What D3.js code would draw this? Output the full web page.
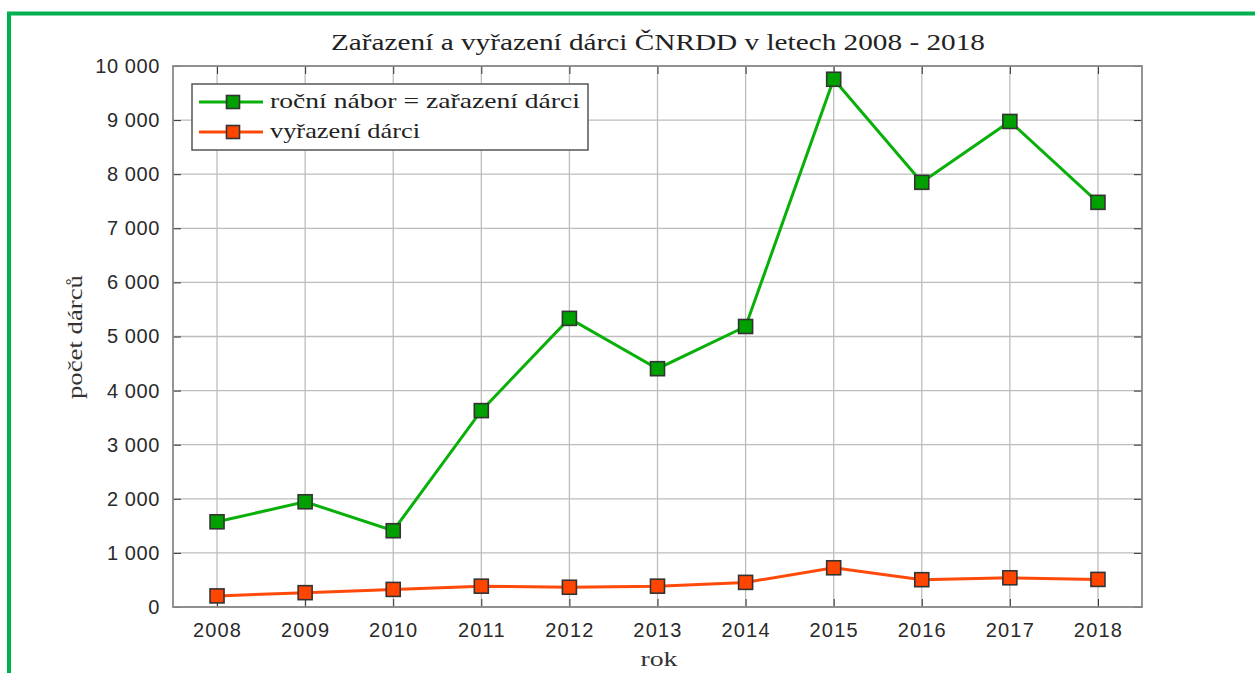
<!DOCTYPE html>
<html>
<head>
<meta charset="utf-8">
<script src="https://cdn.jsdelivr.net/npm/d3@7"></script>
<style>
  body { margin: 0; background: #fff; }
  svg { display: block; }
</style>
</head>
<body>
<div id="chart"></div>
<script>
// data
const years = [2008, 2009, 2010, 2011, 2012, 2013, 2014, 2015, 2016, 2017, 2018];
const recruited = [1575, 1945, 1410, 3630, 5335, 4405, 5185, 9755, 7850, 8975, 7480];
const removed = [205, 265, 325, 385, 365, 385, 455, 725, 505, 540, 510];
const yTicks = [0, 1000, 2000, 3000, 4000, 5000, 6000, 7000, 8000, 9000, 10000];
const seriesNames = ['roční nábor = zařazení dárci', 'vyřazení dárci'];
const lineColors = ['#0ab00a', '#ff4a0a'];
const markerColors = ['#00a000', '#ff4500'];

const W = 1255, H = 673;
const pLeft = 173, pRight = 1142, pTop = 66, pBottom = 607;

const svg = d3.select('#chart').append('svg').attr('width', W).attr('height', H);

// green frame round the picture
svg.append('rect')
  .attr('x', 9).attr('y', 13.5)
  .attr('width', 1260).attr('height', 700)
  .attr('fill', 'none').attr('stroke', '#00b050').attr('stroke-width', 4);

const fmt = d3.formatLocale({decimal: ',', thousands: ' ', grouping: [3], currency: ['', '']}).format(',d');

const x = d3.scaleLinear().domain([2007.5, 2018.5]).range([pLeft, pRight]);
const y = d3.scaleLinear().domain([0, 10000]).range([pBottom, pTop]);

// grid
const grid = svg.append('g');
grid.selectAll('.vg').data(years).enter().append('line')
  .attr('x1', d => x(d)).attr('x2', d => x(d))
  .attr('y1', pTop).attr('y2', pBottom)
  .attr('stroke', '#bdbdbd').attr('stroke-width', 1.3);
grid.selectAll('.hg').data(yTicks).enter().append('line')
  .attr('x1', pLeft).attr('x2', pRight)
  .attr('y1', d => y(d)).attr('y2', d => y(d))
  .attr('stroke', '#bdbdbd').attr('stroke-width', 1.3);

// axes, ticks inside on all four sides
const tickLen = 8;
const xAxis = d3.axisBottom(x).tickValues(years).tickFormat(d3.format('d')).tickSizeInner(-tickLen).tickSizeOuter(0).tickPadding(16);
const yAxis = d3.axisLeft(y).tickValues(yTicks).tickFormat(fmt).tickSizeInner(-tickLen).tickSizeOuter(0).tickPadding(13);

const gx = svg.append('g').attr('transform', `translate(0,${pBottom})`).call(xAxis);
svg.append('g').attr('transform', `translate(${pLeft},0)`).call(yAxis);
svg.append('g').attr('transform', `translate(0,${pTop})`)
  .call(d3.axisTop(x).tickValues(years).tickFormat('').tickSizeInner(-tickLen).tickSizeOuter(0));
svg.append('g').attr('transform', `translate(${pRight},0)`)
  .call(d3.axisRight(y).tickValues(yTicks).tickFormat('').tickSizeInner(-tickLen).tickSizeOuter(0));

svg.selectAll('.domain').remove();
svg.selectAll('.tick line').attr('stroke', '#333').attr('stroke-width', 1);
svg.selectAll('.tick text')
  .attr('font-family', '"Liberation Sans", Arial, sans-serif')
  .attr('font-size', 20).attr('letter-spacing', 0.6).attr('fill', '#2a2a2a');
gx.selectAll('.tick text').attr('letter-spacing', 1.2);

// plot box
svg.append('rect')
  .attr('x', pLeft).attr('y', pTop)
  .attr('width', pRight - pLeft).attr('height', pBottom - pTop)
  .attr('fill', 'none').attr('stroke', '#8a8a8a').attr('stroke-width', 1.8);

// lines and markers
const series = [recruited, removed];
const line = d3.line().x((d, i) => x(years[i])).y(d => y(d));
const ms = 14;
series.forEach((vals, k) => {
  svg.append('path').datum(vals)
    .attr('d', line)
    .attr('fill', 'none').attr('stroke', lineColors[k]).attr('stroke-width', 3);
  svg.selectAll('.m' + k).data(vals).enter().append('rect')
    .attr('x', (d, i) => x(years[i]) - ms / 2)
    .attr('y', d => y(d) - ms / 2)
    .attr('width', ms).attr('height', ms)
    .attr('fill', markerColors[k]).attr('stroke', '#333').attr('stroke-width', 1.6);
});

// serif text is stretched to the width of the TeX font in the picture
const serif = '"Liberation Serif", "Times New Roman", serif';

// legend
const legendWidths = [310, 150];
const lg = svg.append('g');
lg.append('rect')
  .attr('x', 192).attr('y', 84).attr('width', 396).attr('height', 66)
  .attr('fill', '#fff').attr('stroke', '#555').attr('stroke-width', 1.5);
seriesNames.forEach((name, k) => {
  const ly = 102 + k * 30;
  lg.append('line').attr('x1', 199).attr('x2', 263).attr('y1', ly).attr('y2', ly)
    .attr('stroke', lineColors[k]).attr('stroke-width', 3);
  lg.append('rect').attr('x', 233 - 6.5).attr('y', ly - 6.5).attr('width', 13).attr('height', 13)
    .attr('fill', markerColors[k]).attr('stroke', '#333').attr('stroke-width', 1.6);
  lg.append('text').attr('x', 270).attr('y', ly + 6)
    .attr('font-family', serif).attr('font-size', 22).attr('fill', '#222')
    .attr('textLength', legendWidths[k]).attr('lengthAdjust', 'spacingAndGlyphs')
    .text(name);
});

// titles
svg.append('text').attr('x', 658).attr('y', 50).attr('text-anchor', 'middle')
  .attr('font-family', serif).attr('font-size', 23).attr('fill', '#222')
  .attr('textLength', 654).attr('lengthAdjust', 'spacingAndGlyphs')
  .text('Zařazení a vyřazení dárci ČNRDD v letech 2008 - 2018');
svg.append('text').attr('x', 659).attr('y', 666).attr('text-anchor', 'middle')
  .attr('font-family', serif).attr('font-size', 22).attr('fill', '#333')
  .attr('textLength', 37).attr('lengthAdjust', 'spacingAndGlyphs')
  .text('rok');
svg.append('text').attr('transform', 'translate(82,337) rotate(-90)').attr('text-anchor', 'middle')
  .attr('font-family', serif).attr('font-size', 22).attr('fill', '#333')
  .attr('textLength', 124).attr('lengthAdjust', 'spacingAndGlyphs')
  .text('počet dárců');
</script>
</body>
</html>
